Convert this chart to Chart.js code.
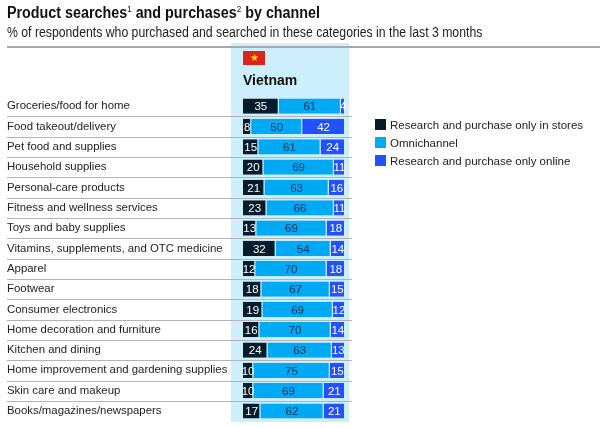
<!DOCTYPE html>
<html>
<head>
<meta charset="utf-8">
<script src="https://cdn.jsdelivr.net/npm/chart.js@4.4.1/dist/chart.umd.min.js"></script>
<style>
  body { margin: 0; background: #fff; font-family: "Liberation Sans", Arial, sans-serif; }
  #wrap { position: relative; width: 600px; height: 428px; overflow: hidden; }
  #chart { position: absolute; left: 0; top: 0; }
  .title { position: absolute; left: 7px; top: 4px; font-size: 16px; font-weight: bold; color: #111; white-space: nowrap; transform: scaleX(0.895); transform-origin: left top; }
  .title sup { font-size: 9px; font-weight: normal; }
  .sub { position: absolute; left: 7px; top: 24px; font-size: 14px; color: #222; white-space: nowrap; transform: scaleX(0.875); transform-origin: left top; }
  .rule { position: absolute; left: 7px; right: 0; top: 46px; height: 2px; background: #a8a8a8; }
  .flag { position: absolute; left: 243px; top: 51px; width: 22px; height: 14px; background: #da251d; color: #ffdd00; font-size: 10px; line-height: 14px; text-align: center; }
  .country { position: absolute; left: 243px; top: 72px; font-size: 14px; font-weight: bold; color: #111; }
  .legend { position: absolute; left: 375px; top: 118px; font-size: 11.5px; color: #222; }
  .legend div { height: 18px; line-height: 14px; white-space: nowrap; }
  .legend span { display: inline-block; width: 11px; height: 11px; margin-right: 4px; vertical-align: -1px; }
</style>
</head>
<body>
<div id="wrap">
  <canvas id="chart" width="600" height="428"></canvas>
  <div class="title">Product searches<sup>1</sup> and purchases<sup>2</sup> by channel</div>
  <div class="sub">% of respondents who purchased and searched in these categories in the last 3 months</div>
  <div class="rule"></div>
  <div class="flag">★</div>
  <div class="country">Vietnam</div>
  <div class="legend" id="legend"></div>
</div>
<script>
// kategori produk
const categories = [
    "Groceries/food for home",
    "Food takeout/delivery",
    "Pet food and supplies",
    "Household supplies",
    "Personal-care products",
    "Fitness and wellness services",
    "Toys and baby supplies",
    "Vitamins, supplements, and OTC medicine",
    "Apparel",
    "Footwear",
    "Consumer electronics",
    "Home decoration and furniture",
    "Kitchen and dining",
    "Home improvement and gardening supplies",
    "Skin care and makeup",
    "Books/magazines/newspapers",
];

const seriesNames = [
    "Research and purchase only in stores",
    "Omnichannel",
    "Research and purchase only online",
];

const inStores = [35, 8, 15, 20, 21, 23, 13, 32, 12, 18, 19, 16, 24, 10, 10, 17];
const omnichannel = [61, 50, 61, 69, 63, 66, 69, 54, 70, 67, 69, 70, 63, 75, 69, 62];
const online = [4, 42, 24, 11, 16, 11, 18, 14, 18, 15, 12, 14, 13, 15, 21, 21];

const colors = ["#051c2c", "#00a9f4", "#2251ff"];
const labelColors = ["#ffffff", "#0b2f55", "#ffffff"];

// legend html
const legendBox = document.getElementById("legend");
seriesNames.forEach((name, i) => {
    legendBox.innerHTML += '<div><span style="background:' + colors[i] + '"></span>' + name + "</div>";
});

// panel biru muda + garis pemisah
const panelPlugin = {
    id: "panel",
    beforeDatasetsDraw(chart) {
        const { ctx, chartArea, scales } = chart;
        ctx.save();
        ctx.fillStyle = "#cdeefc";
        ctx.fillRect(chartArea.left - 12, 43, chartArea.right - chartArea.left + 16, chartArea.bottom + 1 - 43);
        ctx.strokeStyle = "#b4b4b4";
        ctx.lineWidth = 1;
        for (let i = 0; i < categories.length - 1; i++) {
            let y = Math.round((scales.y.getPixelForValue(i) + scales.y.getPixelForValue(i + 1)) / 2) + 0.5;
            ctx.beginPath();
            ctx.moveTo(7, y);
            ctx.lineTo(chartArea.right + 7, y);
            ctx.stroke();
        }
        ctx.restore();
    },
};

// angka di tiap segmen
const valuePlugin = {
    id: "values",
    afterDatasetsDraw(chart) {
        const { ctx } = chart;
        ctx.save();
        ctx.font = "11.5px 'Liberation Sans', Arial, sans-serif";
        ctx.textAlign = "center";
        ctx.textBaseline = "middle";
        chart.data.datasets.forEach((ds, di) => {
            const meta = chart.getDatasetMeta(di);
            meta.data.forEach((bar, i) => {
                ctx.fillStyle = labelColors[di];
                ctx.fillText(ds.data[i], (bar.x + bar.base) / 2, bar.y + 1);
            });
        });
        ctx.restore();
    },
};

new Chart(document.getElementById("chart"), {
    type: "bar",
    data: {
        labels: categories,
        datasets: [inStores, omnichannel, online].map((d, i) => ({
            label: seriesNames[i],
            data: d,
            backgroundColor: colors[i],
            borderColor: "#cdeefc",
            borderWidth: { left: 0, right: 1, top: 0, bottom: 0 },
            borderSkipped: false,
            categoryPercentage: 1,
            barPercentage: 0.75,
        })),
    },
    options: {
        indexAxis: "y",
        responsive: false,
        animation: false,
        devicePixelRatio: 1,
        layout: { padding: { left: 7, right: 255, top: 96, bottom: 4 } },
        plugins: { legend: { display: false }, tooltip: { enabled: false } },
        scales: {
            x: { stacked: true, min: 0, max: 100, display: false },
            y: {
                stacked: true,
                grid: { display: false, drawTicks: false },
                border: { display: true, color: "#222", width: 1 },
                ticks: {
                    crossAlign: "far",
                    padding: 0,
                    color: "#222",
                    font: { family: "'Liberation Sans', Arial, sans-serif", size: 11.4 },
                },
                afterFit(scale) {
                    scale.width = 236;
                },
            },
        },
    },
    plugins: [panelPlugin, valuePlugin],
});
</script>
</body>
</html>
